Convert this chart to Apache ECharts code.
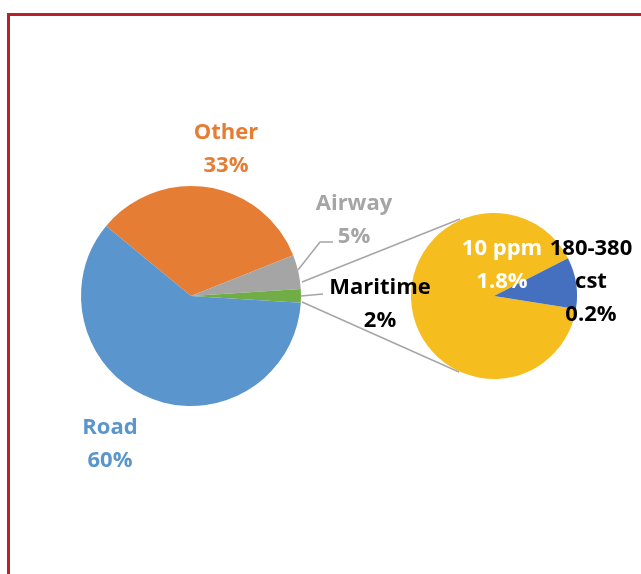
<!DOCTYPE html>
<html>
<head>
<meta charset="utf-8">
<script src="https://cdn.jsdelivr.net/npm/echarts@6/dist/echarts.min.js"></script>
<style>
  html, body { margin: 0; padding: 0; background: #fff; }
  #wrap { position: relative; width: 641px; height: 574px; overflow: hidden; }
  #frame { position: absolute; left: 7px; top: 13px; width: 700px; height: 620px; border: 3px solid #b8202d; box-sizing: border-box; }
  #main { position: absolute; left: 0; top: 0; width: 641px; height: 574px; }
</style>
</head>
<body>
<div id="wrap">
  <div id="frame"></div>
  <div id="main"></div>
</div>
<script>
// main pie
const modes = ["Other", "Airway", "Maritime", "Road"];
const modeShare = [33, 5, 2, 60];
const modeColors = ["#e67d35", "#a5a5a5", "#70ad47", "#5b95cd"];

// breakdown of Maritime
const fuels = ["10 ppm", "180-380\ncst"];
const fuelShare = [1.8, 0.2];
const fuelColors = ["#f6bd1f", "#4470bf"];

const labelFont = {
    fontFamily: "Open Sans",
    fontWeight: "bold",
    fontSize: 22,
    lineHeight: 33,
};

// label placement per slice
const mainLabelPos = {
    Other: { x: 226, y: 149, color: "#e67d35" },
    Airway: { x: 354, y: 220, color: "#a5a5a5", line: [[298, 270], [320, 242], [333, 242]] },
    Maritime: { x: 380, y: 304, color: "#000", line: [[301, 296], [323, 294]] },
    Road: { x: 110, y: 444, color: "#5b95cd" },
};
const subLabelPos = {
    "10 ppm": { x: 502, y: 265, color: "#fff" },
    "180-380\ncst": { x: 591, y: 282, color: "#000" },
};

const chartDom = document.getElementById("main");
const myChart = echarts.init(chartDom);

const option = {
    animation: false,
    graphic: [
        {
            type: "polyline",
            shape: { points: [[302, 282], [460, 219]] },
            style: { stroke: "#a6a6a6", lineWidth: 1.5, fill: null },
            z: 1,
        },
        {
            type: "polyline",
            shape: { points: [[302, 302], [459, 372]] },
            style: { stroke: "#a6a6a6", lineWidth: 1.5, fill: null },
            z: 1,
        },
    ],
    series: [
        {
            type: "pie",
            center: [191, 296],
            radius: 110,
            startAngle: 140.5,
            avoidLabelOverlap: false,
            emphasis: { disabled: true },
            data: modes.map(function (m, i) {
                const pos = mainLabelPos[m];
                return {
                    name: m,
                    value: modeShare[i],
                    itemStyle: { color: modeColors[i] },
                    label: Object.assign({ color: pos.color }, labelFont),
                    labelLine: { show: !!pos.line, lineStyle: { color: "#a5a5a5", width: 1.5 } },
                };
            }),
            label: {
                show: true,
                position: "outside",
                formatter: "{b}\n{c}%",
            },
            labelLayout: function (params) {
                const pos = mainLabelPos[modes[params.dataIndex]];
                const res = { x: pos.x, y: pos.y, align: "center", verticalAlign: "middle" };
                if (pos.line) res.labelLinePoints = pos.line;
                return res;
            },
        },
        {
            type: "pie",
            center: [494, 296],
            radius: 83,
            startAngle: -9,
            avoidLabelOverlap: false,
            emphasis: { disabled: true },
            data: fuels.map(function (f, i) {
                return {
                    name: f,
                    value: fuelShare[i],
                    itemStyle: { color: fuelColors[i] },
                    label: Object.assign({ color: subLabelPos[f].color }, labelFont),
                };
            }),
            label: {
                show: true,
                position: "outside",
                formatter: "{b}\n{c}%",
            },
            labelLine: { show: false },
            labelLayout: function (params) {
                const pos = subLabelPos[fuels[params.dataIndex]];
                return { x: pos.x, y: pos.y, align: "center", verticalAlign: "middle" };
            },
        },
    ],
};
myChart.setOption(option);
</script>
</body>
</html>
